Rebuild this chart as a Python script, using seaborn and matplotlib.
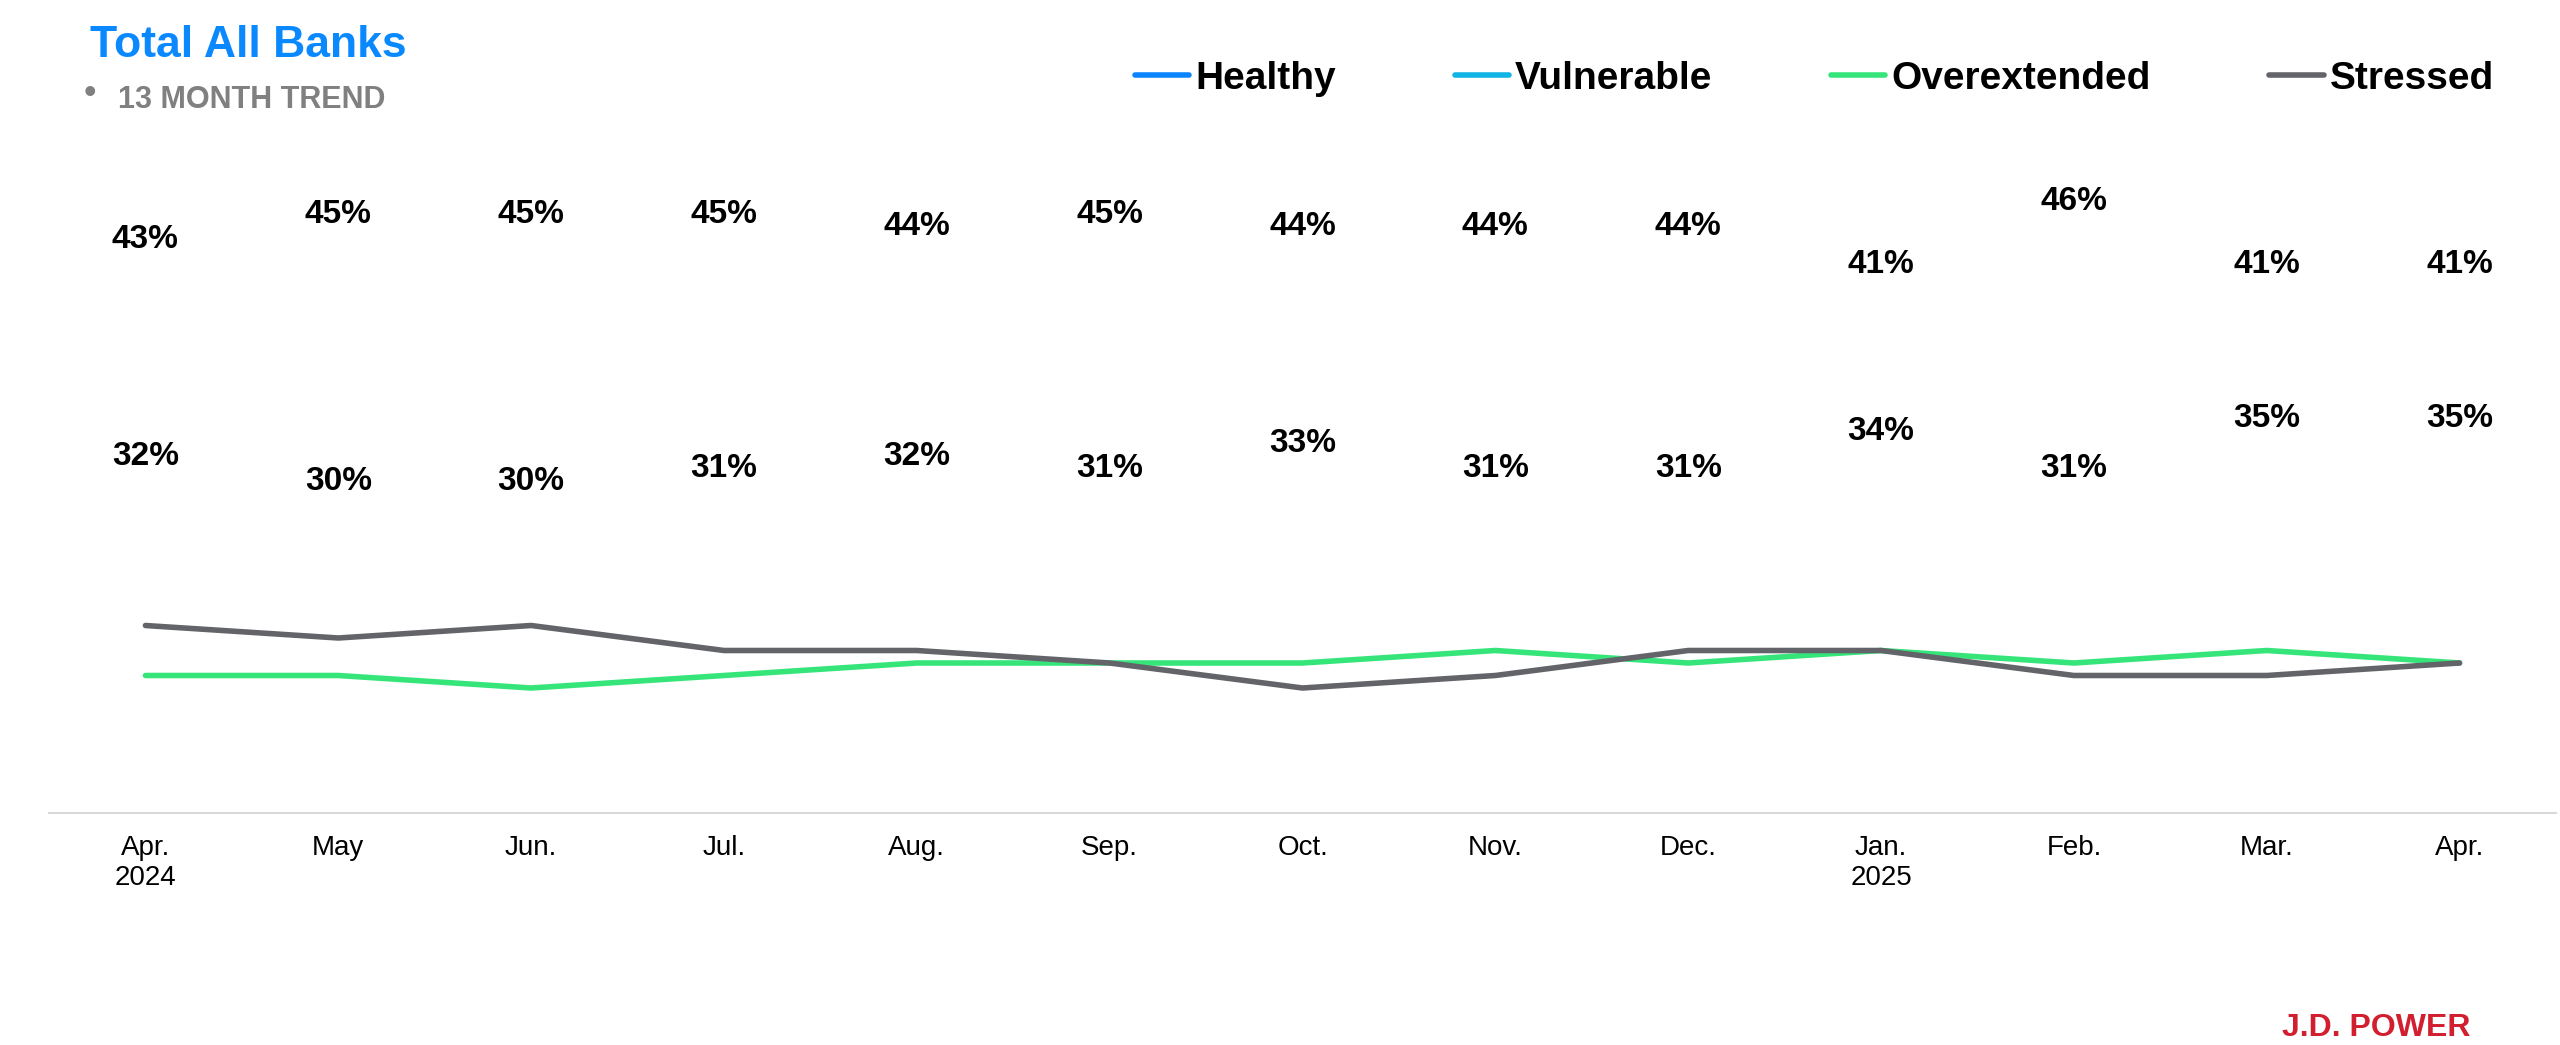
import matplotlib
matplotlib.use("Agg")
import matplotlib.pyplot as plt
import numpy as np
import pandas as pd
import seaborn as sns

# month labels along the bottom
months = ["Apr.\n2024", "May", "Jun.", "Jul.", "Aug.", "Sep.", "Oct.",
          "Nov.", "Dec.", "Jan.\n2025", "Feb.", "Mar.", "Apr."]

# share of customers in each group (%)
healthy = [43, 45, 45, 45, 44, 45, 44, 44, 44, 41, 46, 41, 41]
vulnerable = [32, 30, 30, 31, 32, 31, 33, 31, 31, 34, 31, 35, 35]
overextended = [11, 11, 10, 11, 12, 12, 12, 13, 12, 13, 12, 13, 12]
stressed = [15, 14, 15, 13, 13, 12, 10, 11, 13, 13, 11, 11, 12]

seriesNames = ["Healthy", "Vulnerable", "Overextended", "Stressed"]
colors = {"Healthy": "#0A84FF", "Vulnerable": "#12B4E6",
          "Overextended": "#35E57A", "Stressed": "#636469"}

sns.set_theme(style="white")
plt.rcParams['font.family'] = ['Liberation Sans', 'DejaVu Sans']
plt.rcParams['text.color'] = 'black'

fig = plt.figure(figsize=(25.6, 10.45), dpi=100)
ax = fig.add_axes([49/2560, 232/1045, 2507/2560, 750/1045])

x = np.arange(len(months))
df = pd.DataFrame({"x": x, "Healthy": healthy, "Vulnerable": vulnerable,
                   "Overextended": overextended, "Stressed": stressed})

for name in seriesNames:
    sns.lineplot(data=df, x="x", y=name, ax=ax, color=colors[name],
                 linewidth=4, label=name, legend=False)

lines = ax.get_lines()

# legend at the top right, built before hiding the two top series
leg = fig.legend(lines, seriesNames, loc="center right",
                 bbox_to_anchor=(2494/2560, 1 - 79/1045), ncol=4,
                 frameon=False, prop={'weight': 'bold', 'size': 28},
                 labelcolor="black",
                 handlelength=1.39, handletextpad=0.16, columnspacing=3.05,
                 borderpad=0, borderaxespad=0)

# only the labels are shown for healthy / vulnerable
lines[0].set_visible(False)
lines[1].set_visible(False)

for i in range(len(months)):
    ax.annotate(f"{healthy[i]}%", xy=(i, healthy[i]), xytext=(0, 20),
                textcoords="offset points", ha="center", va="baseline",
                fontsize=24, fontweight="bold", color="black")
    ax.annotate(f"{vulnerable[i]}%", xy=(i, vulnerable[i]), xytext=(0, -37.4),
                textcoords="offset points", ha="center", va="baseline",
                fontsize=24, fontweight="bold", color="black")

ax.set_xlim(-0.5, 12.5)
ax.set_ylim(0, 60)
ax.set_xticks(x)
ax.set_xticklabels(months, fontsize=20, color="black")
ax.set_yticks([])
ax.set_xlabel("")
ax.set_ylabel("")
ax.tick_params(axis="x", length=0, pad=16)
for side in ["top", "left", "right"]:
    ax.spines[side].set_visible(False)
ax.spines["bottom"].set_color("#D9D9D9")
ax.spines["bottom"].set_linewidth(1.5)

# header texts
fig.text(90/2560, 1 - 57/1045, "Total All Banks", fontsize=32,
         fontweight="bold", color="#0A89FF", va="baseline", ha="left")
fig.text(84/2560, 1 - 103/1045, "•", fontsize=26, color="#808080",
         va="baseline", ha="left")
fig.text(118/2560, 1 - 108/1045, "13 MONTH TREND", fontsize=22,
         fontweight="bold", color="#808080", va="baseline", ha="left")

fig.text(2376/2560, 1 - 1036/1045, "J.D. POWER", fontsize=23,
         fontweight="bold", color="#D21F2F", va="baseline", ha="center")

fig.savefig("out.png", dpi=100, facecolor="white")
